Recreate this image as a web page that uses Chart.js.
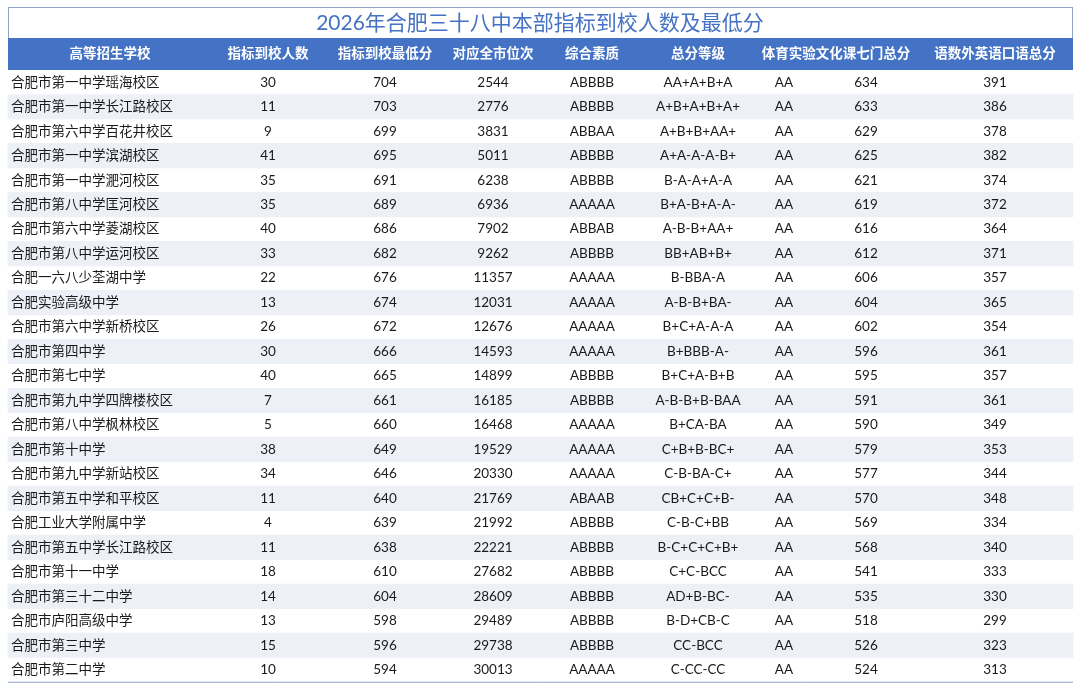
<!DOCTYPE html>
<html><head><meta charset="utf-8">
<script src="https://cdn.jsdelivr.net/npm/chart.js@4"></script>
<style>html,body{margin:0;padding:0;background:#fff}#wrap{width:1080px;height:689px;position:relative}</style>
</head><body><div id="wrap"><canvas id="c"></canvas></div>
<script>
const title = "2026年合肥三十八中本部指标到校人数及最低分";
const headers = ["高等招生学校","指标到校人数","指标到校最低分","对应全市位次","综合素质","总分等级","体育实验文化课七门总分","语数外英语口语总分"];
const schools = ["合肥市第一中学瑶海校区","合肥市第一中学长江路校区","合肥市第六中学百花井校区","合肥市第一中学滨湖校区","合肥市第一中学淝河校区","合肥市第八中学匡河校区","合肥市第六中学菱湖校区","合肥市第八中学运河校区","合肥一六八少荃湖中学","合肥实验高级中学","合肥市第六中学新桥校区","合肥市第四中学","合肥市第七中学","合肥市第九中学四牌楼校区","合肥市第八中学枫林校区","合肥市第十中学","合肥市第九中学新站校区","合肥市第五中学和平校区","合肥工业大学附属中学","合肥市第五中学长江路校区","合肥市第十一中学","合肥市第三十二中学","合肥市庐阳高级中学","合肥市第三中学","合肥市第二中学"];
const quota = [30,11,9,41,35,35,40,33,22,13,26,30,40,7,5,38,34,11,4,11,18,14,13,15,10];
const minScore = [704,703,699,695,691,689,686,682,676,674,672,666,665,661,660,649,646,640,639,638,610,604,598,596,594];
const cityRank = [2544,2776,3831,5011,6238,6936,7902,9262,11357,12031,12676,14593,14899,16185,16468,19529,20330,21769,21992,22221,27682,28609,29489,29738,30013];
const quality = ["ABBBB","ABBBB","ABBAA","ABBBB","ABBBB","AAAAA","ABBAB","ABBBB","AAAAA","AAAAA","AAAAA","AAAAA","ABBBB","ABBBB","AAAAA","AAAAA","AAAAA","ABAAB","ABBBB","ABBBB","ABBBB","ABBBB","ABBBB","ABBBB","AAAAA"];
const grade = ["AA+A+B+A","A+B+A+B+A+","A+B+B+AA+","A+A-A-A-B+","B-A-A+A-A","B+A-B+A-A-","A-B-B+AA+","BB+AB+B+","B-BBA-A","A-B-B+BA-","B+C+A-A-A","B+BBB-A-","B+C+A-B+B","A-B-B+B-BAA","B+CA-BA","C+B+B-BC+","C-B-BA-C+","CB+C+C+B-","C-B-C+BB","B-C+C+C+B+","C+C-BCC","AD+B-BC-","B-D+CB-C","CC-BCC","C-CC-CC"];
const pe = Array(25).fill("AA");
const seven = [634,633,629,625,621,619,616,612,606,604,602,596,595,591,590,579,577,570,569,568,541,535,518,526,524];
const chn = [391,386,378,382,374,372,364,371,357,365,354,361,357,361,349,353,344,348,334,340,333,330,299,323,313];

// layout constants (x positions in the 0..1080 linear scale)
const L=8, R=1073;
const colX=[null,268,385,493,592,698,784,866,995];
const headX=[110,268,385,493,592,698,836,995];
const FONT='Lato, "Noto Sans CJK SC", sans-serif';

const stripe = schools.map((s,i)=> i%2===1 ? [L,R] : null);

const tablePlugin={id:'tbl',
 beforeDatasetsDraw(ch){
  const ctx=ch.ctx, x=ch.scales.x;
  const xl=x.getPixelForValue(L), xr=x.getPixelForValue(R);
  ctx.save();
  ctx.fillStyle='#fff';ctx.fillRect(xl,7,xr-xl,31);
  ctx.strokeStyle='#8fa3c4';ctx.lineWidth=1;ctx.strokeRect(xl+0.5,7.5,xr-xl-1,31);
  ctx.fillStyle='#4472C4';ctx.fillRect(xl,38,xr-xl,32);
  ctx.fillStyle='#4472C4';ctx.font='21px '+FONT;ctx.textAlign='center';ctx.textBaseline='middle';
  ctx.fillText(title,x.getPixelForValue(540),23);
  ctx.fillStyle='#fff';ctx.font='bold 13.5px '+FONT;
  headers.forEach((h,i)=>ctx.fillText(h,x.getPixelForValue(headX[i]),54));
  ctx.restore();
 },
 afterDatasetsDraw(ch){
  const ctx=ch.ctx,x=ch.scales.x,y=ch.scales.y;
  ctx.save();ctx.fillStyle='#1a1a1a';ctx.textBaseline='middle';ctx.font='13.5px '+FONT;
  const cols=[quota,minScore,cityRank,quality,grade,pe,seven,chn];
  schools.forEach((s,i)=>{
   const py=y.getPixelForValue(i);
   ctx.textAlign='left';ctx.fillText(s,x.getPixelForValue(11),py);
   ctx.textAlign='center';
   cols.forEach((c,j)=>ctx.fillText(String(c[i]),x.getPixelForValue(colX[j+1]),py));
  });
  const yb=y.getPixelForValue(24)+12;
  ctx.strokeStyle='#8fa3c4';ctx.beginPath();ctx.moveTo(x.getPixelForValue(L),yb+0.5);ctx.lineTo(x.getPixelForValue(R),yb+0.5);ctx.stroke();
  ctx.restore();
 }};

new Chart(document.getElementById('c'),{
 type:'bar',
 data:{labels:schools,datasets:[{data:stripe,backgroundColor:'#EEF0F8',barPercentage:1,categoryPercentage:1,borderWidth:0}]},
 options:{indexAxis:'y',responsive:true,maintainAspectRatio:false,animation:false,
  layout:{padding:{top:70,bottom:7,left:0,right:0}},
  plugins:{legend:{display:false},tooltip:{enabled:false}},
  scales:{x:{type:'linear',min:0,max:1080,display:false},y:{display:false,offset:true}}},
 plugins:[tablePlugin]});
document.getElementById('wrap').style.height='689px';
</script></body></html>
